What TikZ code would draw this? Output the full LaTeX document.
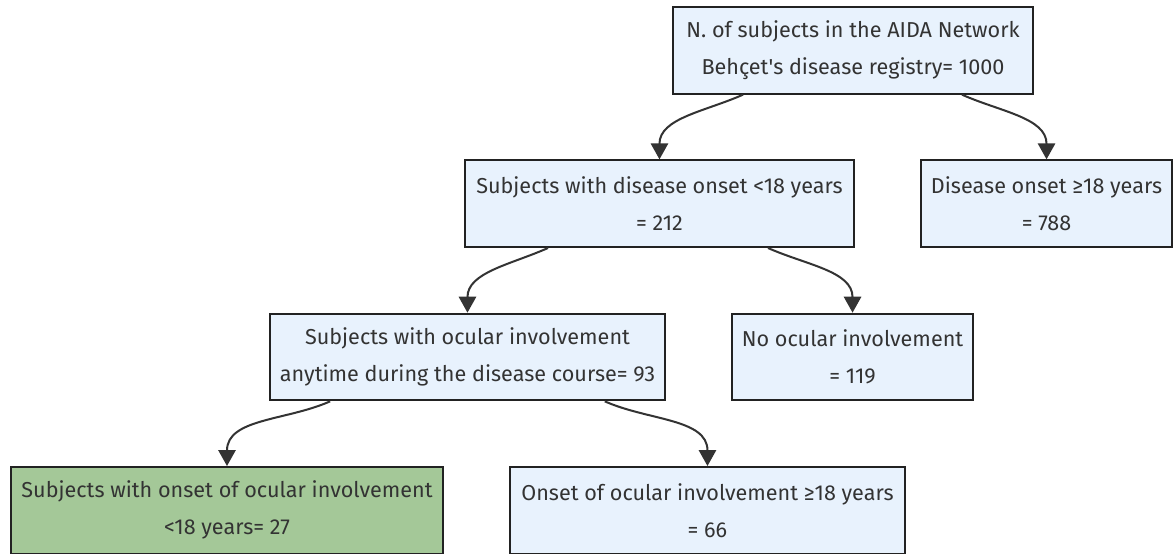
\documentclass[tikz,border=0pt]{standalone}
\usepackage{fontspec}
\setmainfont{Fira Sans}
\usetikzlibrary{arrows.meta, positioning}
\definecolor{BoxBlue}   {RGB}{232, 242, 253}
\definecolor{BoxGreen}  {RGB}{164, 200, 152}
\definecolor{BoxBorder} {RGB}{ 34,  34,  34}
\definecolor{TextDark}  {RGB}{ 51,  51,  51}
\definecolor{ArrowDark} {RGB}{ 51,  51,  51}
\tikzset{
  % Count box (subjects in a group)
  countnode/.style={
    rectangle, fill=BoxBlue, draw=BoxBorder, line width=1.5pt,
    text=TextDark, font=\fontsize{16.2pt}{27.75pt}\selectfont,
    inner sep=4pt, minimum height=65pt,
    align=center
  },
  % Highlighted count box (study group)
  highlightnode/.style={
    countnode, fill=BoxGreen
  },
  % Arrow
  flowarrow/.style={
    -{Triangle[width=13pt, length=12pt]}, line width=1.5pt, color=ArrowDark
  }
}
\begin{document}
\begin{tikzpicture}[node distance=48.5pt and 40pt]

  % ── Page frame ────────────────────────────────────────────────────────────
  \useasboundingbox[fill=white] (0pt, 0pt) rectangle (879.75pt, -414.75pt);

  % ── Registry (root) ───────────────────────────────────────────────────────
  \node[countnode, minimum width=270pt] (reg) at (639.75pt, -37.75pt)
        {N. of subjects in the AIDA Network\\Behçet\textquotesingle s disease registry= 1000};

  % ── Split by age at disease onset ─────────────────────────────────────────
  \node[countnode, minimum width=291.75pt, below=of reg, xshift=-145.15pt] (onset_lt)
        {Subjects with disease onset <18 years\\= 212};
  \node[countnode, minimum width=188.25pt, below=of reg, xshift=145.15pt] (onset_ge)
        {Disease onset ≥18 years\\= 788};

  % ── Split by ocular involvement ───────────────────────────────────────────
  \node[countnode, minimum width=296.25pt, below=of onset_lt, xshift=-144pt] (ocu_any)
        {Subjects with ocular involvement\\anytime during the disease course= 93};
  \node[countnode, minimum width=180.75pt, below=of onset_lt, xshift=144.8pt] (ocu_none)
        {No ocular involvement\\= 119};

  % ── Split by age at ocular onset ──────────────────────────────────────────
  \node[highlightnode, minimum width=324pt, below=of ocu_any, xshift=-180.35pt] (ocu_lt)
        {Subjects with onset of ocular involvement\\<18 years= 27};
  \node[countnode, minimum width=296.25pt, below=of ocu_any, xshift=180pt] (ocu_ge)
        {Onset of ocular involvement ≥18 years\\= 66};

  % ── Arrows ────────────────────────────────────────────────────────────────
  \draw[flowarrow] ([xshift=-82.5pt]reg.south)      to[out=204, in=90] (onset_lt.north);
  \draw[flowarrow] ([xshift=81.75pt]reg.south)      to[out=-24, in=90] (onset_ge.north);
  \draw[flowarrow] ([xshift=-83.6pt]onset_lt.south) to[out=204, in=90] (ocu_any.north);
  \draw[flowarrow] ([xshift=81.4pt]onset_lt.south)  to[out=-24, in=90] (ocu_none.north);
  \draw[flowarrow] ([xshift=-103pt]ocu_any.south)   to[out=204, in=90] (ocu_lt.north);
  \draw[flowarrow] ([xshift=103pt]ocu_any.south)    to[out=-24, in=90] (ocu_ge.north);

\end{tikzpicture}
\end{document}
